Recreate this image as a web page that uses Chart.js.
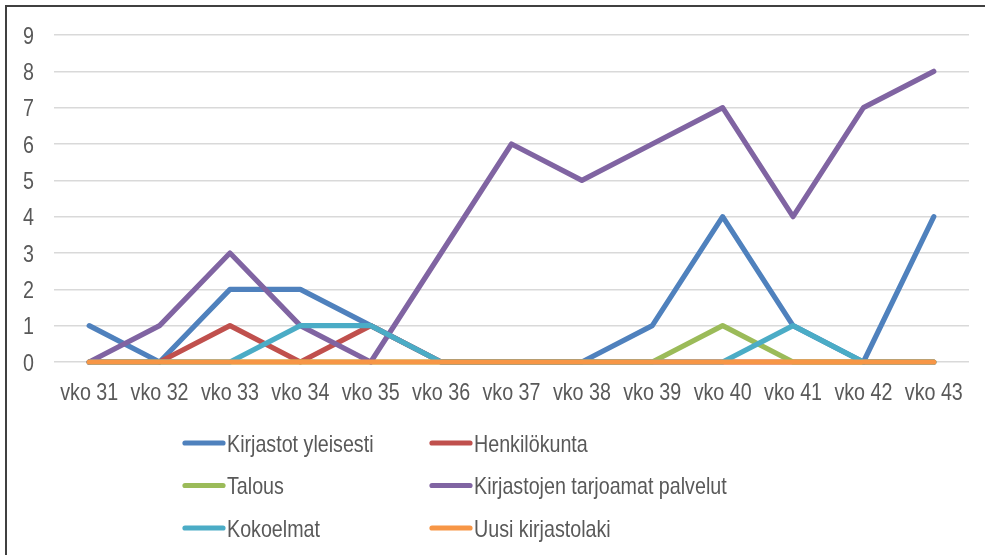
<!DOCTYPE html>
<html>
<head>
<meta charset="utf-8">
<script src="https://cdn.jsdelivr.net/npm/chart.js@4"></script>
<style>
  html, body { margin: 0; padding: 0; background: #fff; }
  #wrap { position: relative; width: 985px; height: 555px; }
  #frame { position: absolute; left: 5px; top: 5px; width: 990px; height: 560px;
           border-left: 2px solid #404040; border-top: 2px solid #404040; pointer-events: none; }
  canvas { position: absolute; left: 0; top: 0; }
</style>
</head>
<body>
<div id="wrap">
  <canvas id="c" width="985" height="555"></canvas>
  <div id="frame"></div>
</div>
<script>
const categories = ["vko 31","vko 32","vko 33","vko 34","vko 35","vko 36","vko 37","vko 38","vko 39","vko 40","vko 41","vko 42","vko 43"];
const seriesNames = ["Kirjastot yleisesti","Henkilökunta","Talous","Kirjastojen tarjoamat palvelut","Kokoelmat","Uusi kirjastolaki"];
const kirjastotYleisesti = [1,0,2,2,1,0,0,0,1,4,1,0,4];
const henkilokunta       = [0,0,1,0,1,0,0,0,0,0,0,0,0];
const talous             = [0,0,0,0,0,0,0,0,0,1,0,0,0];
const tarjoamatPalvelut  = [0,1,3,1,0,3,6,5,6,7,4,7,8];
const kokoelmat          = [0,0,0,1,1,0,0,0,0,0,1,0,0];
const uusiKirjastolaki   = [0,0,0,0,0,0,0,0,0,0,0,0,0];
const yTicks = [0,1,2,3,4,5,6,7,8,9];

const seriesValues = [kirjastotYleisesti, henkilokunta, talous, tarjoamatPalvelut, kokoelmat, uusiKirjastolaki];
const colors = ["#4F81BD","#C0504D","#9BBB59","#8064A2","#4BACC6","#F79646"];
const FONT = "24px 'Liberation Sans', Arial, sans-serif";
const NARROW = 0.82;
const TEXT_COLOR = '#595959';
const LINE_W = 5.2;

function narrowText(ctx, text, x, y, align) {
  ctx.save();
  ctx.font = FONT;
  ctx.fillStyle = TEXT_COLOR;
  ctx.textBaseline = 'alphabetic';
  const w = ctx.measureText(text).width * NARROW;
  let sx = x;
  if (align === 'center') sx = x - w / 2;
  else if (align === 'right') sx = x - w;
  ctx.translate(sx, y);
  ctx.scale(NARROW, 1);
  ctx.textAlign = 'left';
  ctx.fillText(text, 0, 0);
  ctx.restore();
}

const datasets = seriesValues.map((vals, i) => ({
  label: seriesNames[i],
  data: vals,
  borderColor: colors[i],
  backgroundColor: colors[i],
  borderWidth: LINE_W,
  borderCapStyle: 'round',
  borderJoinStyle: 'round',
  pointRadius: 0,
  pointHoverRadius: 0,
  tension: 0,
  fill: false,
  clip: false,
  order: seriesValues.length - i
}));

const narrowLabels = {
  id: 'narrowLabels',
  afterDraw(chart) {
    const ctx = chart.ctx;
    const xs = chart.scales.x, ys = chart.scales.y;
    chart.data.labels.forEach((lab, i) => {
      narrowText(ctx, lab, xs.getPixelForTick(i), ys.getPixelForValue(0) + 38, 'center');
    });
    ys.ticks.forEach(t => {
      narrowText(ctx, String(t.value), 34, ys.getPixelForValue(t.value) + 8.7, 'right');
    });
    const colX = [183, 430];
    const rowY = [443, 485.5, 528];
    chart.data.datasets.forEach((ds, i) => {
      const x0 = colX[i % 2];
      const y = rowY[Math.floor(i / 2)];
      ctx.save();
      ctx.strokeStyle = ds.borderColor;
      ctx.lineWidth = LINE_W;
      ctx.lineCap = 'round';
      ctx.beginPath();
      ctx.moveTo(x0 + 2, y);
      ctx.lineTo(x0 + 40, y);
      ctx.stroke();
      ctx.restore();
      narrowText(ctx, ds.label, x0 + 44, y + 8.5, 'left');
    });
  }
};

new Chart(document.getElementById('c'), {
  type: 'line',
  data: { labels: categories, datasets },
  options: {
    responsive: false,
    animation: false,
    layout: { padding: { top: 35, left: 0, right: 16, bottom: 0 } },
    plugins: { legend: { display: false }, tooltip: { enabled: false } },
    scales: {
      x: {
        offset: true,
        grid: { display: false, drawTicks: false },
        border: { display: false },
        ticks: { display: false, autoSkip: false },
        afterFit(scale) { scale.height = 555 - 362; }
      },
      y: {
        min: 0, max: 9,
        afterBuildTicks(scale) { scale.ticks = yTicks.map(v => ({ value: v })); },
        grid: { color: '#D9D9D9', lineWidth: 1.5, drawTicks: false },
        border: { display: false },
        ticks: { display: false },
        afterFit(scale) { scale.width = 54; }
      }
    }
  },
  plugins: [narrowLabels]
});
</script>
</body>
</html>
